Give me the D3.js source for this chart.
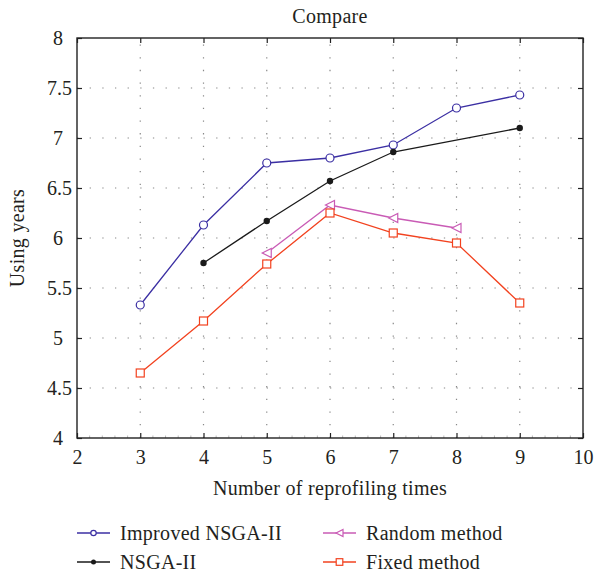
<!DOCTYPE html>
<html>
<head>
<meta charset="utf-8">
<script src="https://cdn.jsdelivr.net/npm/d3@7"></script>
<style>
  html, body { margin: 0; padding: 0; background: #fff; }
  svg text { font-family: "Liberation Serif", "DejaVu Serif", serif; fill: #231f20; }
</style>
</head>
<body>
<svg id="chart" width="595" height="573"></svg>
<script>
// Reprofiling times on the x axis
const xValues = [3, 4, 5, 6, 7, 8, 9];

// Using years per method (null where a method has no value)
const improvedNSGA = [5.33, 6.13, 6.75, 6.80, 6.93, 7.30, 7.43];
const nsga = [null, 5.75, 6.17, 6.57, 6.86, null, 7.10];
const randomMethod = [null, null, 5.85, 6.33, 6.20, 6.10, null];
const fixedMethod = [4.65, 5.17, 5.74, 6.25, 6.05, 5.95, 5.35];

const xTicks = [2, 3, 4, 5, 6, 7, 8, 9, 10];
const yTicks = [4, 4.5, 5, 5.5, 6, 6.5, 7, 7.5, 8];
const yTickLabels = ["4", "4.5", "5", "5.5", "6", "6.5", "7", "7.5", "8"];

const seriesNames = ["Improved NSGA-II", "NSGA-II", "Random method", "Fixed method"];
const seriesColors = ["#3b2fa3", "#1a1a1a", "#c95bb5", "#f2421f"];
const seriesMarkers = ["circle", "dot", "triangle", "square"];
const seriesValues = [improvedNSGA, nsga, randomMethod, fixedMethod];

const FONT = 20;
const LS = "0.3px";

const svg = d3.select("#chart");
const m = { left: 77, top: 38, right: 583, bottom: 438 };

const x = d3.scaleLinear().domain([2, 10]).range([m.left, m.right]);
const y = d3.scaleLinear().domain([4, 8]).range([m.bottom, m.top]);

// dotted grid
const grid = svg.append("g").attr("stroke", "#888").attr("stroke-width", 1.2)
  .attr("stroke-dasharray", "1.3,11.35");
grid.selectAll(".gx").data(xTicks.slice(1, -1)).join("line")
  .attr("x1", d => x(d)).attr("x2", d => x(d))
  .attr("y1", m.bottom).attr("y2", m.top);
grid.selectAll(".gy").data(yTicks.slice(1, -1)).join("line")
  .attr("y1", d => y(d)).attr("y2", d => y(d))
  .attr("x1", m.left).attr("x2", m.right);

// axes with inward ticks on all four sides
const tickLen = 5;
svg.append("g").attr("transform", `translate(0,${m.bottom})`)
  .call(d3.axisBottom(x).tickValues(xTicks).tickSizeInner(-tickLen).tickSizeOuter(0).tickPadding(12).tickFormat(d3.format("d")));
svg.append("g").attr("transform", `translate(0,${m.top})`)
  .call(d3.axisTop(x).tickValues(xTicks).tickSizeInner(-tickLen).tickSizeOuter(0).tickFormat(""));
const yAxisG = svg.append("g").attr("transform", `translate(${m.left},0)`)
  .call(d3.axisLeft(y).tickValues(yTicks).tickSizeInner(-tickLen).tickSizeOuter(0).tickPadding(10)
    .tickFormat((d, i) => yTickLabels[i]));
svg.append("g").attr("transform", `translate(${m.right},0)`)
  .call(d3.axisRight(y).tickValues(yTicks).tickSizeInner(-tickLen).tickSizeOuter(0).tickFormat(""));

// minor ticks along the bottom
const minor = d3.range(2, 10.001, 0.2).filter(v => Math.abs(v - Math.round(v)) > 1e-6);
svg.append("g").selectAll("line").data(minor).join("line")
  .attr("x1", d => x(d)).attr("x2", d => x(d))
  .attr("y1", m.bottom).attr("y2", m.bottom - 2.5)
  .attr("stroke", "#aaa").attr("stroke-width", 0.8);

svg.selectAll(".domain").remove();
svg.selectAll(".tick line").attr("stroke", "#222").attr("stroke-width", 1.2);
svg.selectAll(".tick text").attr("font-size", FONT).style("fill", "#231f20")
  .style("font-family", "'Liberation Serif', serif");
// half-step labels sit a little further right than the whole numbers
yAxisG.selectAll(".tick text").attr("dx", d => Number.isInteger(d) ? "-0.2em" : "0.25em");

svg.append("rect").attr("x", m.left).attr("y", m.top)
  .attr("width", m.right - m.left).attr("height", m.bottom - m.top)
  .attr("fill", "none").attr("stroke", "#222").attr("stroke-width", 1.4);

// marker drawing
function drawMarker(g, type, color, cx, cy) {
  if (type === "circle") {
    g.append("circle").attr("cx", cx).attr("cy", cy).attr("r", 4)
      .attr("fill", "#fff").attr("stroke", color).attr("stroke-width", 1.2);
  } else if (type === "dot") {
    g.append("circle").attr("cx", cx).attr("cy", cy).attr("r", 3.2).attr("fill", color);
  } else if (type === "triangle") {
    const s = 4.5;
    g.append("path").attr("d", `M${cx - s},${cy}L${cx + s},${cy - s}L${cx + s},${cy + s}Z`)
      .attr("fill", "#fff").attr("stroke", color).attr("stroke-width", 1.2);
  } else if (type === "square") {
    const s = 4;
    g.append("rect").attr("x", cx - s).attr("y", cy - s).attr("width", 2 * s).attr("height", 2 * s)
      .attr("fill", "#fff").attr("stroke", color).attr("stroke-width", 1.2);
  }
}

const line = d3.line().x(d => x(d[0])).y(d => y(d[1]));
seriesValues.forEach((vals, i) => {
  const pts = xValues.map((xv, j) => [xv, vals[j]]).filter(p => p[1] !== null);
  const g = svg.append("g");
  g.append("path").datum(pts).attr("d", line).attr("fill", "none")
    .attr("stroke", seriesColors[i]).attr("stroke-width", 1.3);
  pts.forEach(p => drawMarker(g, seriesMarkers[i], seriesColors[i], x(p[0]), y(p[1])));
});

// title and axis labels
svg.append("text").attr("x", 330).attr("y", 23).attr("text-anchor", "middle")
  .attr("font-size", FONT).attr("letter-spacing", LS).text("Compare");
svg.append("text").attr("x", 330).attr("y", 495).attr("text-anchor", "middle")
  .attr("font-size", FONT).attr("letter-spacing", LS).text("Number of reprofiling times");
svg.append("text").attr("transform", "translate(24,238) rotate(-90)").attr("text-anchor", "middle")
  .attr("font-size", FONT).attr("letter-spacing", LS).text("Using years");

// legend
const legendPos = [[77, 533], [77, 562], [323, 533], [323, 562]];
seriesNames.forEach((name, i) => {
  const [lx, ly] = legendPos[i];
  const g = svg.append("g");
  g.append("line").attr("x1", lx).attr("x2", lx + 33).attr("y1", ly).attr("y2", ly)
    .attr("stroke", seriesColors[i]).attr("stroke-width", 1.3);
  const s = seriesMarkers[i];
  const cx = lx + 16.5;
  if (s === "circle") {
    g.append("circle").attr("cx", cx).attr("cy", ly).attr("r", 2.7)
      .attr("fill", "#fff").attr("stroke", seriesColors[i]).attr("stroke-width", 1.2);
  } else if (s === "dot") {
    g.append("circle").attr("cx", cx).attr("cy", ly).attr("r", 2.5).attr("fill", seriesColors[i]);
  } else if (s === "triangle") {
    const r = 3.5;
    g.append("path").attr("d", `M${cx - r},${ly}L${cx + r},${ly - r}L${cx + r},${ly + r}Z`)
      .attr("fill", "#fff").attr("stroke", seriesColors[i]).attr("stroke-width", 1.2);
  } else {
    const r = 3.3;
    g.append("rect").attr("x", cx - r).attr("y", ly - r).attr("width", 2 * r).attr("height", 2 * r)
      .attr("fill", "#fff").attr("stroke", seriesColors[i]).attr("stroke-width", 1.2);
  }
  g.append("text").attr("x", lx + 43).attr("y", ly + 6.5).attr("font-size", FONT)
    .attr("letter-spacing", LS).text(name);
});
</script>
</body>
</html>
